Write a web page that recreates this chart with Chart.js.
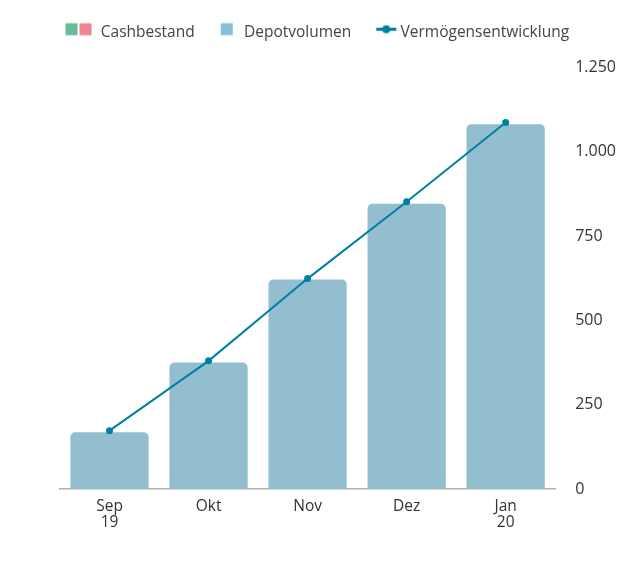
<!DOCTYPE html>
<html>
<head>
<meta charset="utf-8">
<script src="https://cdn.jsdelivr.net/npm/chart.js@4/dist/chart.umd.min.js"></script>
<style>
    body { margin: 0; background: #fff; }
    #box { width: 636px; height: 561px; }
</style>
</head>
<body>
<div id="box"><canvas id="grafik"></canvas></div>
<script>
const monate = [["Sep", "19"], "Okt", "Nov", "Dez", ["Jan", "20"]]
const cashbestand = [0, 0, 0, 0, 0]
const depotvolumen = [168, 375, 621, 846, 1082]
const vermoegen = [173, 380, 624, 852, 1087]
const yTicks = [0, 250, 500, 750, 1000, 1250]

const farbeBalken = '#92bed0'
const farbeLinie = '#0080a0'

// Legenden-Icons als kleine Canvas-Bilder (Text beginnt bei x = 64)
function icon(zeichnen) {
    const c = document.createElement("canvas")
    c.width = 80
    c.height = 22
    zeichnen(c.getContext("2d"))
    return c
}
const iconCash = icon(ctx => {
    ctx.fillStyle = '#66bb98'
    ctx.fillRect(29, 1.5, 12, 12)
    ctx.fillStyle = '#f08492'
    ctx.fillRect(43, 1.5, 12, 12)
})
const iconDepot = icon(ctx => {
    ctx.fillStyle = '#80c0d8'
    ctx.fillRect(41, 1.5, 12, 12)
})
const iconLinie = icon(ctx => {
    ctx.strokeStyle = farbeLinie
    ctx.lineWidth = 3
    ctx.beginPath()
    ctx.moveTo(40, 7.5)
    ctx.lineTo(60, 7.5)
    ctx.stroke()
    ctx.fillStyle = farbeLinie
    ctx.beginPath()
    ctx.arc(50, 7.5, 4, 0, Math.PI * 2)
    ctx.fill()
})
const icons = [iconCash, iconDepot, iconLinie]

const legendenAbstand = {
    id: "legendenAbstand",
    beforeInit(chart) {
        const fit = chart.legend.fit
        chart.legend.fit = function () {
            fit.bind(chart.legend)()
            this.height += 17
        }
    },
    afterLayout(chart) {
        chart.legend.left = 51.5
    }
}

const ctx = document.getElementById("grafik")
new Chart(ctx, {
    type: "bar",
    data: {
        labels: monate,
        datasets: [{
            label: "Cashbestand",
            data: cashbestand,
            backgroundColor: '#66bb98',
            stack: "balken",
            order: 2,
        },
        {
            label: "Depotvolumen",
            data: depotvolumen,
            backgroundColor: farbeBalken,
            borderRadius: 5,
            borderSkipped: 'start',
            barPercentage: 0.79,
            categoryPercentage: 1,
            stack: "balken",
            order: 1,
        },
        {
            type: "line",
            label: "Vermögensentwicklung",
            data: vermoegen,
            borderColor: farbeLinie,
            backgroundColor: farbeLinie,
            borderWidth: 2,
            pointRadius: 3.5,
            pointBorderWidth: 0,
            tension: 0,
            stack: "linie",
            order: 0,
        }]
    },
    options: {
        responsive: true,
        maintainAspectRatio: false,
        animation: false,
        layout: { padding: { left: 60, right: 0, top: 16.5, bottom: 21 } },
        plugins: {
            tooltip: { enabled: false },
            legend: {
                position: "top",
                align: "start",
                labels: {
                    usePointStyle: true,
                    pointStyleWidth: 33,
                    padding: 8.5,
                    color: '#444',
                    font: { family: "Open Sans", size: 15.5 },
                    generateLabels: chart => chart.data.datasets.map((ds, i) => ({
                        text: ds.label,
                        pointStyle: icons[i],
                        fillStyle: 'transparent',
                        strokeStyle: 'transparent',
                        lineWidth: 0,
                        fontColor: '#444',
                        datasetIndex: i,
                    }))
                }
            }
        },
        scales: {
            x: {
                stacked: true,
                grid: { display: false, drawTicks: false },
                border: { color: '#b0b0b0', width: 1.5 },
                ticks: {
                    color: '#333',
                    padding: 10,
                    font: { family: "Open Sans", size: 15.5, lineHeight: 1.0 },
                    maxRotation: 0,
                }
            },
            y: {
                position: "right",
                stacked: true,
                min: 0,
                max: 1250,
                afterBuildTicks: axis => { axis.ticks = yTicks.map(v => ({ value: v })) },
                grid: { display: false, drawTicks: false },
                border: { display: false },
                ticks: {
                    color: '#333',
                    padding: 20,
                    font: { family: "Open Sans", size: 16 },
                    callback: v => v.toLocaleString("de-DE"),
                }
            }
        }
    },
    plugins: [legendenAbstand]
})
</script>
</body>
</html>
